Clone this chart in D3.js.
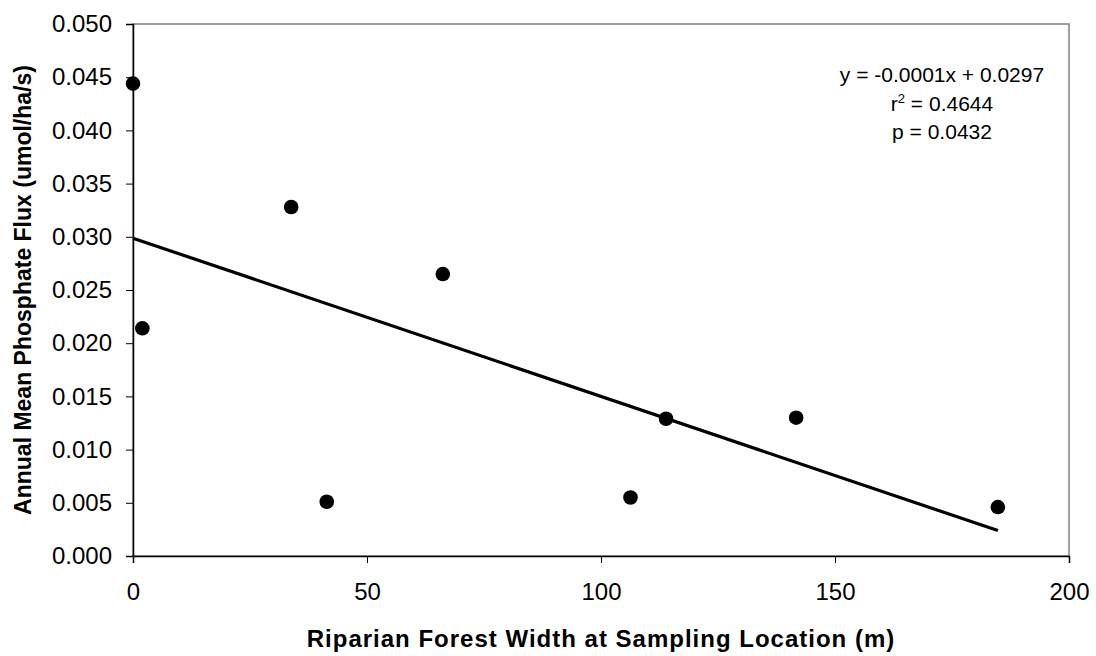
<!DOCTYPE html>
<html>
<head>
<meta charset="utf-8">
<script src="https://cdn.jsdelivr.net/npm/d3@7"></script>
<style>
  html, body { margin: 0; padding: 0; background: #fff; }
  svg { display: block; font-family: Arial, "Liberation Sans", sans-serif; }
</style>
</head>
<body>
<svg id="chart" width="1096" height="656"></svg>
<script>
// Riparian forest width (m) at each sampling location
const forestWidth = [0, 2.0, 33.8, 41.4, 66.2, 106.3, 113.9, 141.7, 184.8];
// Annual mean phosphate flux (umol/ha/s) at the same locations
const phosphateFlux = [0.0444, 0.0214, 0.0328, 0.0051, 0.0265, 0.0055, 0.0129, 0.0130, 0.0046];

const xTicks = [0, 50, 100, 150, 200];
const yTicks = [0, 0.005, 0.010, 0.015, 0.020, 0.025, 0.030, 0.035, 0.040, 0.045, 0.050];

const fitLabels = ["y = -0.0001x + 0.0297", "r\u00B2 = 0.4644", "p = 0.0432"];

const W = 1096, H = 656;
const margin = { top: 24, right: 27, bottom: 100, left: 133 };
const iw = W - margin.left - margin.right;
const ih = H - margin.top - margin.bottom;

const svg = d3.select("#chart");
const g = svg.append("g").attr("transform", `translate(${margin.left},${margin.top})`);

const x = d3.scaleLinear().domain([0, 200]).range([0, iw]);
const y = d3.scaleLinear().domain([0, 0.05]).range([ih, 0]);

// plot-area frame (grey)
g.append("rect")
  .attr("x", 0).attr("y", 0).attr("width", iw).attr("height", ih)
  .attr("fill", "none").attr("stroke", "#808080").attr("stroke-width", 1.5);

// axes
const xAxis = d3.axisBottom(x).tickValues(xTicks).tickSize(7).tickPadding(20).tickFormat(d3.format("d"));
const yAxis = d3.axisLeft(y).tickValues(yTicks).tickSize(7).tickPadding(14).tickFormat(d3.format(".3f"));

const gx = g.append("g").attr("transform", `translate(0,${ih})`).call(xAxis);
const gy = g.append("g").call(yAxis);

[gx, gy].forEach(a => {
  a.select(".domain").attr("stroke", "#000").attr("stroke-width", 1.5);
  a.selectAll(".tick line").attr("stroke", "#000").attr("stroke-width", 1);
  a.selectAll(".tick text").attr("fill", "#000").style("font-size", "24px")
    .style("font-family", "Arial, 'Liberation Sans', sans-serif");
});

// least-squares fit through the samples
const n = forestWidth.length;
const mx = d3.mean(forestWidth), my = d3.mean(phosphateFlux);
let sxy = 0, sxx = 0;
for (let i = 0; i < n; i++) {
  sxy += (forestWidth[i] - mx) * (phosphateFlux[i] - my);
  sxx += (forestWidth[i] - mx) ** 2;
}
const slope = sxy / sxx;
const intercept = my - slope * mx;
const xFit = d3.extent(forestWidth);

g.append("line")
  .attr("x1", x(xFit[0])).attr("y1", y(intercept + slope * xFit[0]))
  .attr("x2", x(xFit[1])).attr("y2", y(intercept + slope * xFit[1]))
  .attr("stroke", "#000").attr("stroke-width", 3.2);

// sample points
g.selectAll("circle.pt")
  .data(forestWidth.map((v, i) => [v, phosphateFlux[i]]))
  .join("circle")
  .attr("class", "pt")
  .attr("cx", d => x(d[0]))
  .attr("cy", d => y(d[1]))
  .attr("r", 7.3)
  .attr("fill", "#000");

// regression annotation
const ann = svg.append("text")
  .attr("text-anchor", "middle")
  .style("font-size", "21px")
  .attr("fill", "#000");
ann.append("tspan").attr("x", 942).attr("y", 82).text(fitLabels[0]);
const t2 = ann.append("tspan").attr("x", 942).attr("y", 111);
t2.append("tspan").text("r");
t2.append("tspan").attr("dy", -8).style("font-size", "13px").text("2");
t2.append("tspan").attr("dy", 8).text(" = 0.4644");
ann.append("tspan").attr("x", 942).attr("y", 139).text(fitLabels[2]);

// axis titles
svg.append("text")
  .attr("x", margin.left + iw / 2).attr("y", 647)
  .attr("text-anchor", "middle")
  .style("font-size", "24px").style("font-weight", "bold")
  .style("letter-spacing", "1px")
  .text("Riparian Forest Width at Sampling Location (m)");

svg.append("text")
  .attr("transform", `translate(31,${margin.top + ih / 2}) rotate(-90)`)
  .attr("text-anchor", "middle")
  .style("font-size", "23px").style("font-weight", "bold")
  .text("Annual Mean Phosphate Flux (umol/ha/s)");
</script>
</body>
</html>
